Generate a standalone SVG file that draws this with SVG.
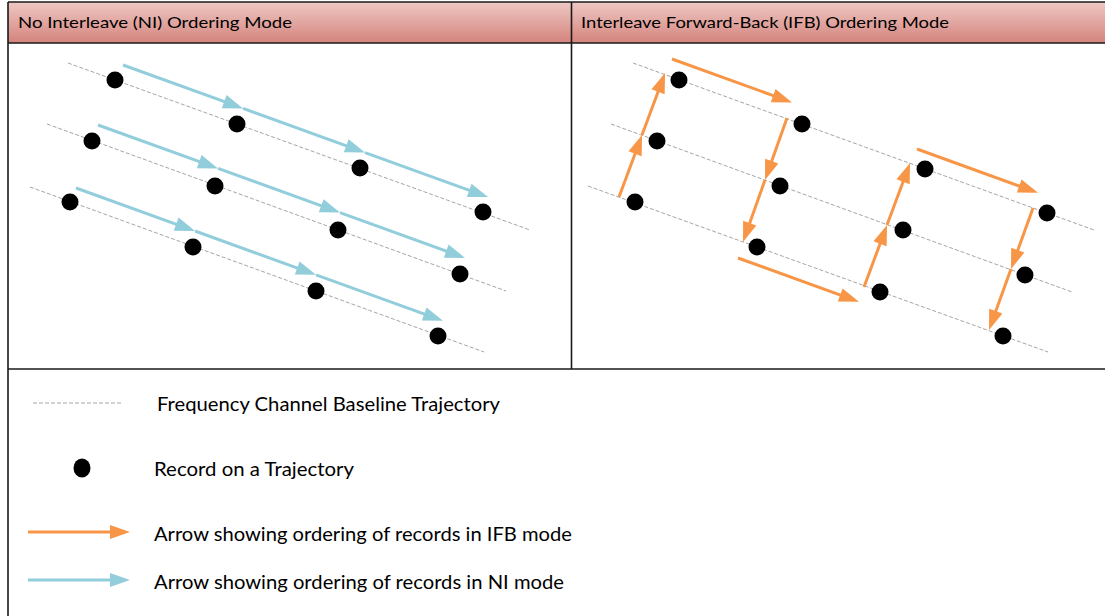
<svg xmlns="http://www.w3.org/2000/svg" width="1105" height="616" viewBox="0 0 1105 616">
<style>
.hdr{font-family:Lato,"Liberation Sans",sans-serif;font-size:16px;fill:#000}
.lg{font-family:Lato,"Liberation Sans",sans-serif;font-size:19px;fill:#000}
.grid{stroke:#1a1a1a;stroke-width:1.6;fill:none}
.traj{stroke:#a6a6a6;stroke-width:1;stroke-dasharray:4 2;fill:none}
.rec{fill:#000}
.ni{stroke:#92cddc;stroke-width:3;fill:none;marker-end:url(#ahB)}
.ifb{stroke:#f79646;stroke-width:3;fill:none;marker-end:url(#ahO)}
</style>
<defs>
<linearGradient id="hg" x1="0" y1="0" x2="0" y2="1">
<stop offset="0" stop-color="#eec8c4"/>
<stop offset="1" stop-color="#d4837c"/>
</linearGradient>
<marker id="ahB" markerUnits="userSpaceOnUse" markerWidth="20" markerHeight="14" refX="15" refY="7" orient="auto" overflow="visible">
<path d="M0,0 L20,7 L0,14 z" fill="#92cddc"/>
</marker>
<marker id="ahO" markerUnits="userSpaceOnUse" markerWidth="20" markerHeight="14" refX="15" refY="7" orient="auto" overflow="visible">
<path d="M0,0 L20,7 L0,14 z" fill="#f79646"/>
</marker>
</defs>
<rect width="1105" height="616" fill="#fff"/>

<g id="table">
<rect x="8" y="2" width="1100" height="41" fill="url(#hg)"/>
<line class="grid" x1="8" y1="2" x2="1105" y2="2"/>
<line class="grid" x1="8" y1="43" x2="1105" y2="43"/>
<line class="grid" x1="8" y1="2" x2="8" y2="616"/>
<line class="grid" x1="571.5" y1="2" x2="571.5" y2="369"/>
<line class="grid" x1="8" y1="369" x2="1105" y2="369"/>
<text class="hdr" x="18" y="28" textLength="274" lengthAdjust="spacingAndGlyphs">No Interleave (NI) Ordering Mode</text>
<text class="hdr" x="581" y="28" textLength="368" lengthAdjust="spacingAndGlyphs">Interleave Forward-Back (IFB) Ordering Mode</text>
</g>

<g id="trajectories">
<line class="traj" x1="68" y1="63" x2="530" y2="230"/>
<line class="traj" x1="47" y1="124" x2="506" y2="291"/>
<line class="traj" x1="30" y1="187" x2="484" y2="352"/>
<line class="traj" x1="633" y1="63" x2="1094" y2="230"/>
<line class="traj" x1="611" y1="124" x2="1072" y2="292"/>
<line class="traj" x1="588" y1="186" x2="1048" y2="352"/>
</g>

<g id="ni-records">
<circle class="rec" cx="115" cy="80" r="8.5"/>
<circle class="rec" cx="237" cy="124" r="8.5"/>
<circle class="rec" cx="360" cy="168" r="8.5"/>
<circle class="rec" cx="483" cy="212" r="8.5"/>
<circle class="rec" cx="92" cy="141" r="8.5"/>
<circle class="rec" cx="215" cy="186" r="8.5"/>
<circle class="rec" cx="338" cy="230" r="8.5"/>
<circle class="rec" cx="460" cy="274" r="8.5"/>
<circle class="rec" cx="70" cy="202" r="8.5"/>
<circle class="rec" cx="193" cy="247" r="8.5"/>
<circle class="rec" cx="316" cy="291" r="8.5"/>
<circle class="rec" cx="438" cy="336" r="8.5"/>
</g>

<g id="ifb-records">
<circle class="rec" cx="679" cy="80" r="8.5"/>
<circle class="rec" cx="802" cy="124" r="8.5"/>
<circle class="rec" cx="925" cy="169" r="8.5"/>
<circle class="rec" cx="1047" cy="213" r="8.5"/>
<circle class="rec" cx="657" cy="141" r="8.5"/>
<circle class="rec" cx="780" cy="186" r="8.5"/>
<circle class="rec" cx="903" cy="230" r="8.5"/>
<circle class="rec" cx="1025" cy="275" r="8.5"/>
<circle class="rec" cx="635" cy="202" r="8.5"/>
<circle class="rec" cx="757" cy="247" r="8.5"/>
<circle class="rec" cx="880" cy="292" r="8.5"/>
<circle class="rec" cx="1003" cy="336" r="8.5"/>
</g>

<g id="connectors">
<line class="ni" x1="123" y1="65" x2="238.3" y2="106.7"/>
<line class="ni" x1="243" y1="108.4" x2="360.3" y2="150.9"/>
<line class="ni" x1="365" y1="152.6" x2="483.3" y2="195.4"/>
<line class="ni" x1="98" y1="125" x2="213.3" y2="166.7"/>
<line class="ni" x1="218" y1="168.4" x2="335.3" y2="210.9"/>
<line class="ni" x1="340" y1="212.6" x2="460.3" y2="256.2"/>
<line class="ni" x1="76" y1="188" x2="190.3" y2="229.3"/>
<line class="ni" x1="195" y1="231" x2="311.3" y2="273.1"/>
<line class="ni" x1="316" y1="274.8" x2="438.3" y2="319.1"/>

<line class="ifb" x1="619" y1="197" x2="640.3" y2="139.7"/>
<line class="ifb" x1="642" y1="135" x2="663.3" y2="77.7"/>
<line class="ifb" x1="672" y1="59" x2="787.3" y2="100.7"/>
<line class="ifb" x1="787" y1="118" x2="766.7" y2="175.3"/>
<line class="ifb" x1="765" y1="180" x2="744.7" y2="237.3"/>
<line class="ifb" x1="738" y1="258" x2="854.3" y2="300.1"/>
<line class="ifb" x1="864" y1="287" x2="885.3" y2="229.7"/>
<line class="ifb" x1="887" y1="225" x2="908.3" y2="167.7"/>
<line class="ifb" x1="917" y1="149" x2="1033.3" y2="191.1"/>
<line class="ifb" x1="1033" y1="208" x2="1012.7" y2="264.3"/>
<line class="ifb" x1="1011" y1="269" x2="990.7" y2="325.3"/>
</g>

<g id="legend">
<line class="traj" x1="33" y1="403" x2="123" y2="403" stroke="#bfbfbf"/>
<text class="lg" x="157" y="411" textLength="343" lengthAdjust="spacingAndGlyphs">Frequency Channel Baseline Trajectory</text>
<ellipse class="rec" cx="82" cy="468" rx="8.5" ry="9.5"/>
<text class="lg" x="154" y="476" textLength="200" lengthAdjust="spacingAndGlyphs">Record on a Trajectory</text>
<line class="ifb" x1="28" y1="532" x2="125" y2="532"/>
<text class="lg" x="154" y="541" textLength="418" lengthAdjust="spacingAndGlyphs">Arrow showing ordering of records in IFB mode</text>
<line class="ni" x1="28" y1="580" x2="125" y2="580"/>
<text class="lg" x="154" y="589" textLength="410" lengthAdjust="spacingAndGlyphs">Arrow showing ordering of records in NI mode</text>
</g>
</svg>
